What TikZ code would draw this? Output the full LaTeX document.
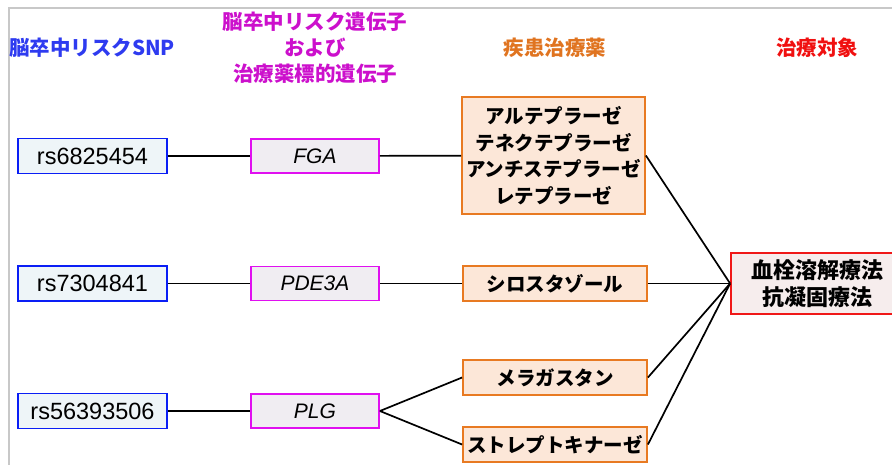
\documentclass[tikz,border=0pt]{standalone}
\usepackage{fontspec}
\newfontfamily\jp{Noto Sans CJK JP}
\newfontfamily\jpb{Noto Sans CJK JP Black}
\newfontfamily\lat{Liberation Sans}
\definecolor{hblue}{HTML}{2E3BF0}
\definecolor{hmag}{HTML}{CC10CC}
\definecolor{horange}{HTML}{E07420}
\definecolor{hred}{HTML}{F01010}
\definecolor{bblue}{HTML}{0A1EF5}
\definecolor{fblue}{HTML}{EEF5F8}
\definecolor{bmag}{HTML}{E010F0}
\definecolor{fmag}{HTML}{F0EDF2}
\definecolor{borange}{HTML}{E87A22}
\definecolor{forange}{HTML}{FCE7D8}
\definecolor{bred}{HTML}{F01818}
\definecolor{fred}{HTML}{F6EDED}
\definecolor{frame}{HTML}{C8C8C8}
\tikzset{
  x=1pt, y=1pt,
  hdr/.style={font=\jpb\fontsize{20.5}{26}\selectfont, align=center, inner sep=0},
  snpbox/.style={draw=bblue, fill=fblue, line width=1.8pt, minimum width=149pt, minimum height=35pt, inner sep=0, font=\lat\fontsize{23.5}{26}\selectfont},
  genebox/.style={draw=bmag, fill=fmag, line width=1.8pt, minimum width=128pt, minimum height=34pt, inner sep=0, font=\lat\itshape\fontsize{21}{26}\selectfont},
  drugbox/.style={draw=borange, fill=forange, line width=1.8pt, minimum width=184pt, minimum height=35pt, inner sep=0, align=center, font=\jpb\fontsize{19.5}{26.6}\selectfont},
  tgtbox/.style={draw=bred, fill=fred, line width=1.8pt, minimum width=172pt, minimum height=61pt, inner sep=0, align=center, font=\jpb\fontsize{22}{27}\selectfont},
  conn/.style={line width=1.7pt, black},
}
\begin{document}
\begin{tikzpicture}
\useasboundingbox (0,0) rectangle (892,-464);
\draw[frame, line width=2pt] (9,-465) -- (9,-8) -- (893,-8);

\node[hdr, text=hblue] (h1) at (92,-48) {脳卒中リスクSNP};
\node[hdr, text=hmag] (h2) at (315,-48) {脳卒中リスク遺伝子\\および\\治療薬標的遺伝子};
\node[hdr, text=horange] (h3) at (555,-48) {疾患治療薬};
\node[hdr, text=hred] (h4) at (817,-48) {治療対象};

\node[snpbox] (s1) at (92.5,-156) {rs6825454};
\node[snpbox] (s2) at (92.5,-283.5) {rs7304841};
\node[snpbox] (s3) at (92.5,-411) {rs56393506};

\node[genebox] (g1) at (315,-156) {FGA};
\node[genebox] (g2) at (315,-283.5) {PDE3A};
\node[genebox] (g3) at (315,-411) {PLG};

\node[drugbox, minimum width=183pt, minimum height=117pt] (d1) at (553.5,-155.5) {アルテプラーゼ\\テネクテプラーゼ\\アンチステプラーゼ\\レテプラーゼ};
\node[drugbox] (d2) at (555,-283.5) {シロスタゾール};
\node[drugbox] (d3) at (555,-377.5) {メラガスタン};
\node[drugbox] (d4) at (555,-444.5) {ストレプトキナーゼ};

\node[tgtbox] (t) at (817,-283.5) {血栓溶解療法\\抗凝固療法};

\draw[conn] (s1) -- (g1);
\draw[conn] (s2) -- (g2);
\draw[conn] (s3) -- (g3);
\draw[conn] (g1) -- (d1);
\draw[conn] (g2) -- (d2);
\draw[conn] (g3.east) -- (d3.west);
\draw[conn] (g3.east) -- (d4.west);
\draw[conn] (d1.east) -- (t.west);
\draw[conn] (d2.east) -- (t.west);
\draw[conn] (d3.east) -- (t.west);
\draw[conn] (d4.east) -- (t.west);
\end{tikzpicture}
\end{document}
